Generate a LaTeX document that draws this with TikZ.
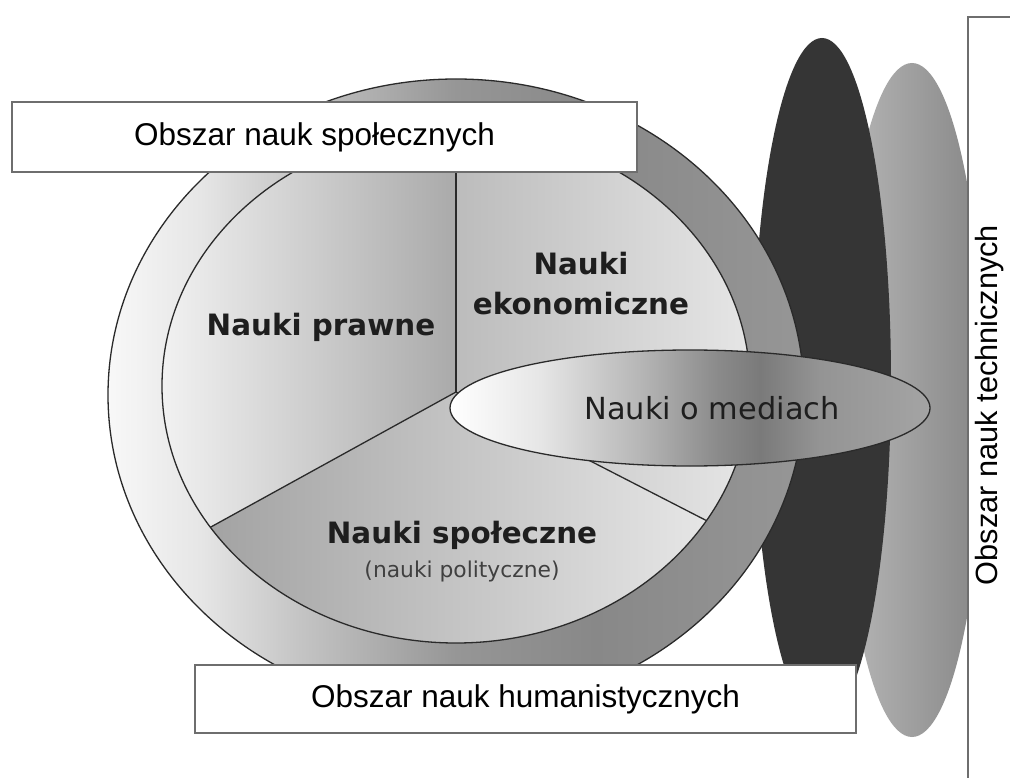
\documentclass[tikz,border=0pt]{standalone}
\usepackage{fontspec}
\setmainfont{Liberation Sans}
\newfontfamily\dvs{DejaVu Sans}
\definecolor{lineC}{HTML}{2A2A2A}
\definecolor{boxC}{HTML}{6E6E6E}
\definecolor{labC}{HTML}{1E1E1E}
\definecolor{blackE}{HTML}{353535}
\definecolor{greyL}{HTML}{B8B8B8}
\definecolor{greyR}{HTML}{868686}
\definecolor{rA}{HTML}{F8F8F8}
\definecolor{rB}{HTML}{E6E6E6}
\definecolor{rC}{HTML}{C4C4C4}
\definecolor{rD}{HTML}{969696}
\definecolor{rE}{HTML}{888888}
\definecolor{rF}{HTML}{969696}
\definecolor{mA}{HTML}{FFFFFF}
\definecolor{mB}{HTML}{E6E6E6}
\definecolor{mC}{HTML}{B6B6B6}
\definecolor{mD}{HTML}{8A8A8A}
\definecolor{mE}{HTML}{7A7A7A}
\definecolor{mF}{HTML}{949494}
\definecolor{mG}{HTML}{A4A4A4}
\definecolor{prL}{HTML}{F2F2F2}
\definecolor{prR}{HTML}{AAAAAA}
\definecolor{ekL}{HTML}{BCBCBC}
\definecolor{ekR}{HTML}{E6E6E6}
\definecolor{spL}{HTML}{9C9C9C}
\definecolor{spR}{HTML}{ECECEC}
\pgfdeclarehorizontalshading{ringsh}{100bp}{color(0bp)=(rA); color(25bp)=(rA); color(31.6bp)=(rB); color(38.8bp)=(rC); color(50bp)=(rD); color(60bp)=(rE); color(75bp)=(rF); color(100bp)=(rF)}
\pgfdeclarehorizontalshading{mediash}{100bp}{color(0bp)=(mA); color(25bp)=(mA); color(34.4bp)=(mB); color(44.8bp)=(mC); color(53bp)=(mD); color(57.3bp)=(mE); color(63.5bp)=(mF); color(75bp)=(mG); color(100bp)=(mG)}
\tikzset{
  outl/.style={draw=lineC, line width=1.3pt},
  box/.style={rectangle, draw=boxC, line width=2pt, fill=white, inner sep=0pt},
  boxtext/.style={font=\fontsize{31.5}{36}\selectfont, text=black},
  boldlab/.style={font=\dvs\bfseries\fontsize{29.4}{40}\selectfont, text=labC, align=center},
  reglab/.style={font=\dvs\fontsize{21.8}{26}\selectfont, text=labC!85!white},
  medlab/.style={font=\dvs\fontsize{30.4}{36}\selectfont, text=labC}
}
\begin{document}
\begin{tikzpicture}[x=1pt,y=-1pt]
\useasboundingbox (0,0) rectangle (1010,778);
\fill[white] (0,0) rectangle (1010,778);

% back ellipses
\shade[left color=greyL, right color=greyR] (912,400) ellipse [x radius=72pt, y radius=337pt];
\fill[blackE] (822,380) ellipse [x radius=69pt, y radius=342pt];

% outer ring
\shade[shading=ringsh] (456,395) ellipse [x radius=348pt, y radius=316pt];
\draw[outl] (456,395) ellipse [x radius=348pt, y radius=316pt];

% pie
\begin{scope}
\clip (456,386) ellipse [x radius=294pt, y radius=257pt];
\shade[left color=prL, right color=prR] (456,392) -- (456,125) -- (160,125) -- (160,555) -- cycle;
\shade[left color=ekL, right color=ekR] (456,392) -- (456,125) -- (752,125) -- (752,544) -- cycle;
\shade[left color=spL, right color=spR] (456,392) -- (752,544) -- (752,648) -- (160,648) -- (160,555) -- cycle;
\draw[outl] (160,555) -- (456,392) -- (752,544);
\draw[outl] (456,392) -- (456,125);
\end{scope}
\draw[outl] (456,386) ellipse [x radius=294pt, y radius=257pt];

% media ellipse
\shade[shading=mediash] (690,408) ellipse [x radius=240pt, y radius=58pt];
\draw[outl] (690,408) ellipse [x radius=240pt, y radius=58pt];

% labels
\node[boldlab, anchor=base] (prawne) at (321,335) {Nauki prawne};
\node[boldlab] (ekon) at (581,284) {Nauki\\ekonomiczne};
\node[boldlab, anchor=base] (spoleczne) at (462,543) {Nauki społeczne};
\node[reglab, anchor=base] (polit) at (462,577) {(nauki polityczne)};
\node[medlab, anchor=base] (media) at (712,419) {Nauki o mediach};

% boxes
\node[box, boxtext, minimum width=625pt, minimum height=70pt] (socbox) at (324.5,137) {\hspace*{-20pt}Obszar nauk społecznych};
\node[box, boxtext, minimum width=661pt, minimum height=68pt] (humbox) at (525.5,699) {Obszar nauk humanistycznych};
\node[box, minimum width=52pt, minimum height=783pt] (techbox) at (994,408.5) {};
\node[boxtext, rotate=90, font=\fontsize{30.7}{36}\selectfont] (techtext) at (990,405) {Obszar nauk technicznych};
\end{tikzpicture}
\end{document}
